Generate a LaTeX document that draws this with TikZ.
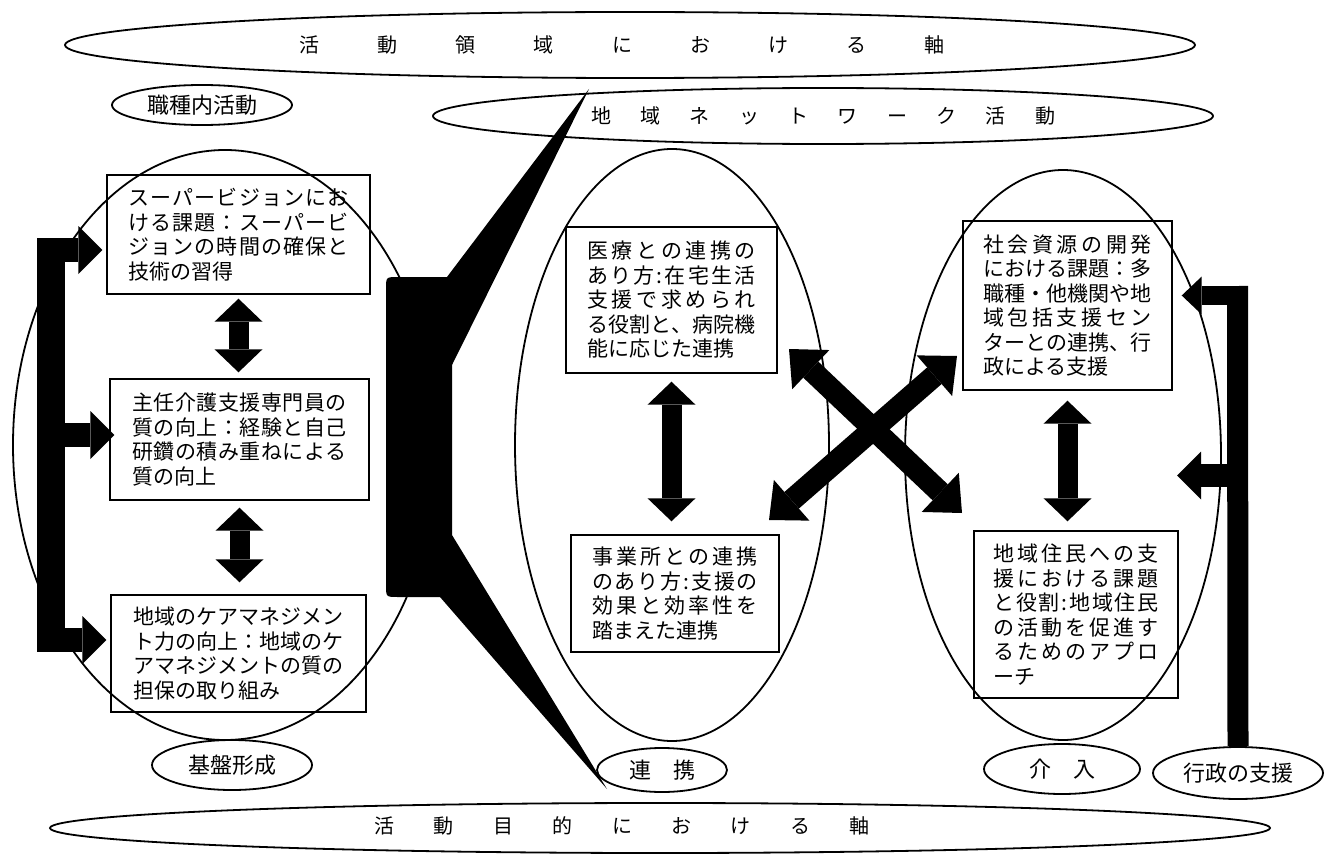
\documentclass[tikz,border=0pt]{standalone}
\usepackage{fontspec}
\setmainfont{Noto Sans CJK JP}
\usetikzlibrary{shapes.geometric,arrows.meta}
\def\jlA#1#2{#1\ifx\relax#2\else\hfil\expandafter\jlA\expandafter#2\fi}
\newcommand\jl[2]{\hbox to #1{\jlA#2\relax}}
\begin{document}
\begin{tikzpicture}[x=1pt,y=-1pt,
 ell/.style={draw,ellipse,line width=1.8pt,inner sep=0pt},
 box/.style={draw,rectangle,line width=1.4pt,inner sep=0pt,align=left,font=\fontsize{21}{24.5}\selectfont},
 axis/.style={font=\fontsize{20}{24}\selectfont},
 lbl/.style={font=\fontsize{22}{26}\selectfont},
 dbl/.style={line width=20pt,{Triangle[length=23pt,width=48pt,line width=0pt]}-{Triangle[length=23pt,width=48pt,line width=0pt]}},
 xarr/.style={line width=22pt,{Triangle[length=30pt,width=54pt,line width=0pt]}-{Triangle[length=30pt,width=54pt,line width=0pt]}},
 bar/.style={line width=28pt},
 rbar/.style={line width=21pt},
 barm/.style={line width=24pt,-{Triangle[length=24pt,width=48pt,line width=0pt]}},
]
\fill[white] (0,0) rectangle (1325,856);
\useasboundingbox (0,0) rectangle (1325,856);

% axis ellipses
\node[ell,minimum width=1130pt,minimum height=66pt] (topax) at (630,45) {};
\node[axis] (topaxt) at (622,45) {\jl{645pt}{活動領域における軸}};
\node[ell,minimum width=1220pt,minimum height=50pt] (botax) at (660,828) {};
\node[axis] (botaxt) at (622,826) {\jl{495pt}{活動目的における軸}};
\node[ell,minimum width=780pt,minimum height=56pt,axis] (net) at (823,116) {\jl{464pt}{地域ネットワーク活動}};
\node[ell,minimum width=180pt,minimum height=40pt,lbl] (shoku) at (202,105) {職種内活動};

% big ellipses
\node[ell,minimum width=424pt,minimum height=590pt] (eL) at (225,445) {};
\node[ell,minimum width=314pt,minimum height=592pt] (eM) at (672,445) {};
\node[ell,minimum width=316pt,minimum height=570pt] (eR) at (1063,455) {};

% bottom labels
\node[ell,minimum width=160pt,minimum height=50pt,lbl] (kiban) at (232,765) {基盤形成};
\node[ell,minimum width=130pt,minimum height=44pt,lbl] (renkei) at (662,770) {\jl{66pt}{連携}};
\node[ell,minimum width=156pt,minimum height=50pt,lbl] (kainyu) at (1062,769) {\jl{66pt}{介入}};
\node[ell,minimum width=170pt,minimum height=52pt,lbl] (gy) at (1238,773) {行政の支援};

% boxes
\node[box,minimum width=263pt,minimum height=119pt] (b1) at (238.5,234.5)
 {\jl{220pt}{スーパービジョンにお}\\\jl{220pt}{ける課題：スーパービ}\\\jl{220pt}{ジョンの時間の確保と}\\技術の習得};
\node[box,minimum width=259pt,minimum height=121pt] (b2) at (239.5,439.5)
 {\jl{215pt}{主任介護支援専門員の}\\\jl{215pt}{質の向上：経験と自己}\\\jl{215pt}{研鑽の積み重ねによる}\\質の向上};
\node[box,minimum width=255pt,minimum height=117pt] (b3) at (238.5,653.5)
 {\jl{210pt}{地域のケアマネジメン}\\\jl{210pt}{ト力の向上：地域のケ}\\\jl{210pt}{アマネジメントの質の}\\担保の取り組み};
\node[box,minimum width=211pt,minimum height=146pt] (b4) at (671.5,300)
 {\jl{168pt}{医療との連携の}\\\jl{168pt}{あり方:在宅生活}\\\jl{168pt}{支援で求められ}\\\jl{168pt}{る役割と、病院機}\\能に応じた連携};
\node[box,minimum width=208pt,minimum height=117pt] (b5) at (675,593.5)
 {\jl{166pt}{事業所との連携}\\\jl{166pt}{のあり方:支援の}\\\jl{166pt}{効果と効率性を}\\踏まえた連携};
\node[box,minimum width=209pt,minimum height=169pt] (b6) at (1067.5,305.5)
 {\jl{169pt}{社会資源の開発}\\\jl{169pt}{における課題：多}\\\jl{169pt}{職種・他機関や地}\\\jl{169pt}{域包括支援セン}\\\jl{169pt}{ターとの連携、行}\\政による支援};
\node[box,minimum width=204pt,minimum height=167pt] (b7) at (1076,614.5)
 {\jl{165pt}{地域住民への支}\\\jl{165pt}{援における課題}\\\jl{165pt}{と役割:地域住民}\\\jl{165pt}{の活動を促進す}\\\jl{165pt}{るためのアプロ}\\ーチ};

% black brace shape
\fill (589,89) -- (447,277) -- (398,277) .. controls (386,277) .. (386,289) -- (386,585)
  .. controls (386,597) .. (398,597) -- (440,597) -- (607,789) -- (452,535) -- (452,365) -- cycle;

% vertical double arrows
\draw[dbl,shorten <=4pt,shorten >=6pt] (b1.south) -- (b1.south |- b2.north);
\draw[dbl,shorten <=7pt,shorten >=12pt] (b2.south) -- (b2.south |- b3.north);
\draw[dbl,shorten <=8pt,shorten >=13pt] (b4.south) -- (b4.south |- b5.north);
\draw[dbl,shorten <=10pt,shorten >=9pt] (b6.south) -- (b6.south |- b7.north);

% cross arrows
\coordinate (xa1) at (789,349);
\coordinate (xa2) at (962,513);
\coordinate (xb1) at (769,520);
\coordinate (xb2) at (957,356);
\draw[xarr] (xa1) -- (xa2);
\draw[xarr] (xb1) -- (xb2);

% left bracket
\coordinate (lb1) at (51,238);
\coordinate (lb2) at (51,652);
\coordinate (la1) at (51,250);
\coordinate (la2) at (51,435);
\coordinate (la3) at (51,640);
\draw[bar] (lb1) -- (lb2);
\draw[barm,shorten >=4pt] (la1) -- (la1 -| b1.west);
\draw[barm,shorten >=-5pt] (la2) -- (la2 -| b2.west);
\draw[barm,shorten >=4pt] (la3) -- (la3 -| b3.west);

% right bracket
\coordinate (rb1) at (1237.5,286);
\coordinate (ra1) at (1237.5,295.5);
\coordinate (ra2) at (1237.5,475.5);
\coordinate (rt2) at (1177,475.5);
\draw[rbar] (gy.north) -- (rb1);
\draw[line width=19pt,-{Triangle[length=20pt,width=38pt,line width=0pt]},shorten >=9pt] (ra1) -- (ra1 -| b6.east);
\draw[line width=23pt,-{Triangle[length=24pt,width=48pt,line width=0pt]}] (ra2) -- (rt2);
\end{tikzpicture}
\end{document}
